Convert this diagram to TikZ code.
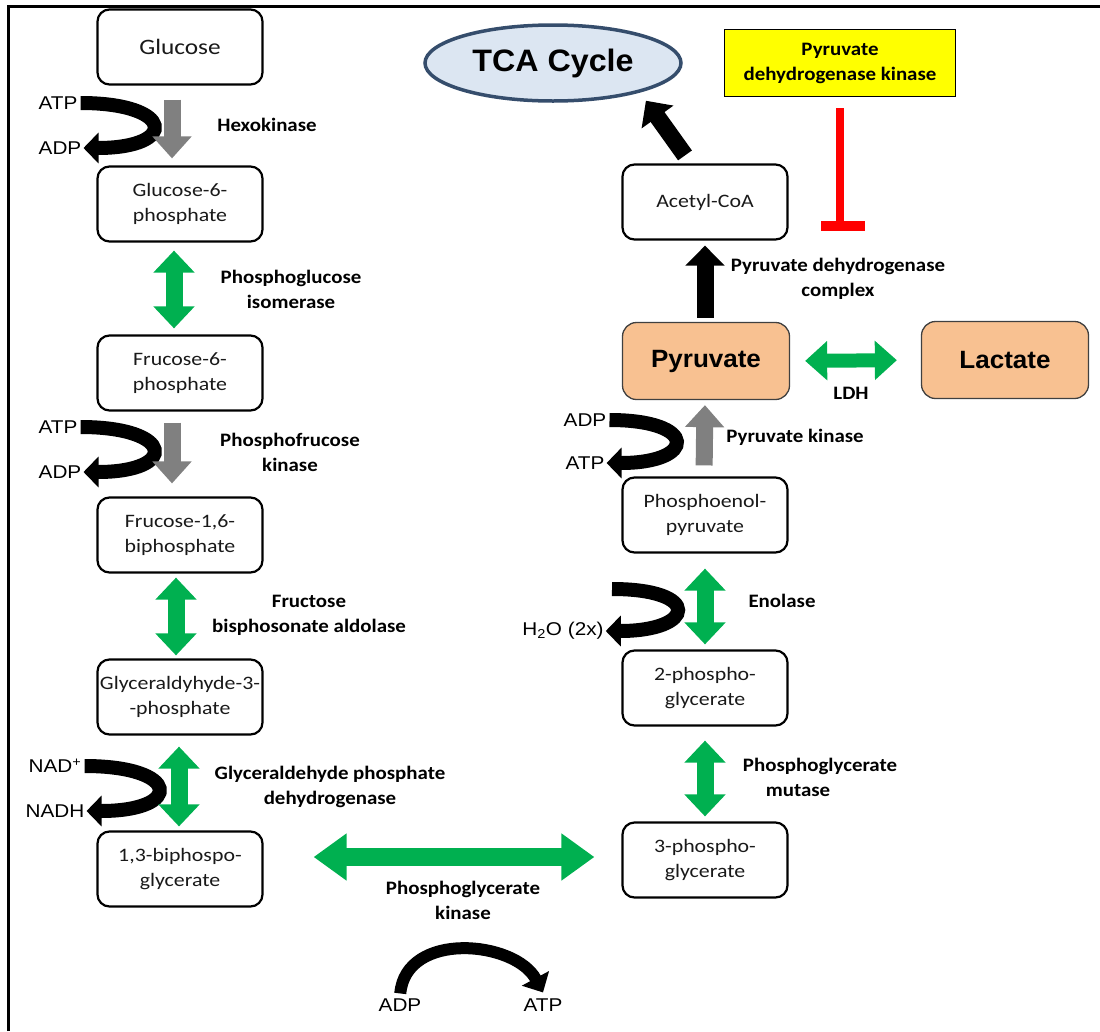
\documentclass[tikz,border=0pt]{standalone}
\usepackage{fontspec}
\setmainfont{Carlito}
\newfontfamily\boxfont[FakeStretch=1.15]{Carlito}
\newfontfamily\labfont[FakeStretch=1.1]{Carlito}
\newfontfamily\arialS[FakeStretch=1.12]{Liberation Sans}
\newfontfamily\arialB[FakeStretch=1.04]{Liberation Sans}
\usetikzlibrary{arrows.meta,shapes.geometric}
\definecolor{pgreen}{HTML}{00B050}
\definecolor{pgray}{HTML}{808080}
\definecolor{peach}{HTML}{F8C191}
\definecolor{tcafill}{HTML}{DCE6F2}
\definecolor{tcaedge}{HTML}{354D6C}
\definecolor{pdkyellow}{HTML}{FFFF00}
\tikzset{
  box/.style={draw, line width=2.2pt, rounded corners=12pt, minimum width=165pt, minimum height=75pt, align=center, inner sep=0pt, text=black!90, font=\boxfont\fontsize{19}{25}\selectfont},
  obox/.style={draw=black!75, line width=1.3pt, fill=peach, rounded corners=14pt, minimum width=167pt, minimum height=77pt, inner sep=0pt, font=\arialB\bfseries\fontsize{25}{30}\selectfont},
  lab/.style={align=center, inner sep=0pt, font=\labfont\bfseries\fontsize{19}{25}\selectfont},
  cof/.style={inner sep=2pt, font=\arialS\fontsize{18.5}{22}\selectfont},
  grayarrow/.style={pgray, line width=17pt, -{Triangle[length=22pt,width=38pt]}},
  greenarrow/.style={pgreen, line width=17pt, {Triangle[length=22pt,width=40pt]}-{Triangle[length=22pt,width=40pt]}},
  blackarrow/.style={black, line width=17pt, -{Triangle[length=20pt,width=38pt]}},
  cofarrow/.style={black, line width=14pt, -{Triangle[length=15pt,width=30pt]}},
}
\begin{document}
\begin{tikzpicture}[x=1pt,y=-1pt]
\useasboundingbox (0,0) rectangle (1100,1031);
\draw[line width=3pt] (8.5,1031) -- (8.5,6.5) -- (1100,6.5);

% left column
\node[box, font=\boxfont\fontsize{22}{28}\selectfont] (glc) at (180,47) {Glucose};
\node[box] (g6p) at (180,204) {Glucose-6-\\phosphate};
\node[box] (f6p) at (180,373) {Frucose-6-\\phosphate};
\node[box] (f16) at (180,535) {Frucose-1,6-\\biphosphate};
\node[box] (g3p) at (180,697) {Glyceraldyhyde-3-\\-phosphate};
\node[box] (bpg) at (180,869) {1,3-biphospo-\\glycerate};

% right column
\node[box] (acoa) at (705,202) {Acetyl-CoA};
\node[obox] (pyr) at (706,361) {Pyruvate};
\node[obox] (lac) at (1005,360) {Lactate};
\node[box] (pep) at (705,515) {Phosphoenol-\\pyruvate};
\node[box] (pg2) at (705,688) {2-phospho-\\glycerate};
\node[box] (pg3) at (705,860) {3-phospho-\\glycerate};

\node[ellipse, draw=tcaedge, line width=3.5pt, fill=tcafill, minimum width=256pt, minimum height=76pt, inner sep=0pt, font=\arialB\bfseries\fontsize{31}{36}\selectfont] (tca) at (553,63) {TCA Cycle};
\node[draw, line width=1pt, fill=pdkyellow, minimum width=231pt, minimum height=67pt, align=center, inner sep=0pt, font=\labfont\bfseries\fontsize{19}{25}\selectfont] (pdk) at (840,63) {Pyruvate\\dehydrogenase kinase};

% cofactor labels
\node[cof] (atp1) at (58,103) {ATP};
\node[cof] (adp1) at (60,148) {ADP};
\node[cof] (atp2) at (58,427) {ATP};
\node[cof] (adp2) at (60,472) {ADP};
\node[cof] (nad) at (55,766) {NAD\textsuperscript{+}};
\node[cof] (nadh) at (55,811) {NADH};
\node[cof] (adp3) at (585,420) {ADP};
\node[cof] (atp3) at (585,463) {ATP};
\coordinate (h2os) at (612,589);
\node[cof] (h2o) at (563,631) {H\textsubscript{2}O (2x)};
\node[cof] (adp4) at (400,1005) {ADP};
\node[cof] (atp4) at (543,1005) {ATP};

% enzyme labels
\node[lab] (hk) at (267,125) {Hexokinase};
\node[lab] (pgi) at (291,289) {Phosphoglucose\\isomerase};
\node[lab] (pfk) at (290,452) {Phosphofrucose\\kinase};
\node[lab] (ald) at (309,615) {Fructose\\bisphosonate aldolase};
\node[lab] (gapdh) at (330,787) {Glyceraldehyde phosphate\\dehydrogenase};
\node[lab] (pgk) at (463,900) {Phosphoglycerate\\kinase};
\node[lab] (pdc) at (838,279) {Pyruvate dehydrogenase\\complex};
\node[lab] (ldh) at (851,393) {LDH};
\node[lab] (pk) at (795,437) {Pyruvate kinase};
\node[lab] (eno) at (782,601) {Enolase};
\node[lab] (pgm) at (820,777) {Phosphoglycerate\\mutase\hspace*{44pt}};

% cofactor curves
\draw[cofarrow, shorten <=1pt] (atp1.east) .. controls +(95,0) and +(95,0) .. (adp1.east);
\draw[cofarrow, shorten <=1pt] (atp2.east) .. controls +(95,0) and +(95,0) .. (adp2.east);
\draw[cofarrow, shorten <=1pt] (nad.east) .. controls +(97,0) and +(97,0) .. (nadh.east);
\draw[cofarrow, shorten <=1pt] (adp3.east) .. controls +(90,0) and +(90,0) .. (atp3.east);
\draw[cofarrow] (h2os) .. controls +(90,0) and +(90,0) .. (h2o.east);
\draw[black, line width=12pt, -{Triangle[length=16pt,width=30pt]}, shorten <=3pt]
  (adp4.north) .. controls +(6,-66) and +(-28,-52) .. ([xshift=0pt,yshift=4pt]atp4.north);

% main pathway arrows
\draw[grayarrow, shorten <=14pt, shorten >=7pt] ([xshift=-8pt]glc.south) -- ([xshift=-8pt]g6p.north);
\draw[greenarrow, shorten <=8pt, shorten >=6pt] ([xshift=-6pt]g6p.south) -- ([xshift=-6pt]f6p.north);
\draw[grayarrow, shorten <=11pt, shorten >=13pt] ([xshift=-8pt]f6p.south) -- ([xshift=-8pt]f16.north);
\draw[greenarrow, shorten <=4pt, shorten >=3pt] ([xshift=-4pt]f16.south) -- ([xshift=-4pt]g3p.north);
\draw[greenarrow, shorten <=11pt, shorten >=4pt] ([xshift=-1pt]g3p.south) -- ([xshift=-1pt]bpg.north);
\draw[pgreen, line width=18pt, {Triangle[length=33pt,width=45pt]}-{Triangle[length=33pt,width=45pt]}, shorten <=50pt, shorten >=27pt]
  ([yshift=12pt]bpg.east) -- ([yshift=3pt]pg3.west);
\draw[greenarrow, shorten <=5pt, shorten >=14pt] (pg3.north) -- (pg2.south);
\draw[greenarrow, shorten <=5pt, shorten >=15pt] (pg2.north) -- (pep.south);
\draw[grayarrow, shorten <=11pt, shorten >=5pt] ([xshift=-1pt]pep.north) -- ([xshift=-1pt]pyr.south);
\draw[blackarrow, shorten <=4pt, shorten >=5pt] ([xshift=-1pt]pyr.north) -- (acoa.south);
\draw[blackarrow, shorten >=2pt] ([xshift=-20pt,yshift=8pt]acoa.north) -- ([yshift=-8pt]tca.south east);
\draw[pgreen, line width=14pt, {Triangle[length=22pt,width=38pt]}-{Triangle[length=22pt,width=38pt]}, shorten <=15pt, shorten >=24pt]
  (pyr.east) -- (lac.west);

% inhibition
\coordinate (inh) at (840,226);
\draw[red, line width=8pt, shorten <=11pt] (pdk.south) -- (inh);
\fill[red] ([xshift=-19pt,yshift=5pt]inh) rectangle ([xshift=25pt,yshift=-5pt]inh);
\end{tikzpicture}
\end{document}
